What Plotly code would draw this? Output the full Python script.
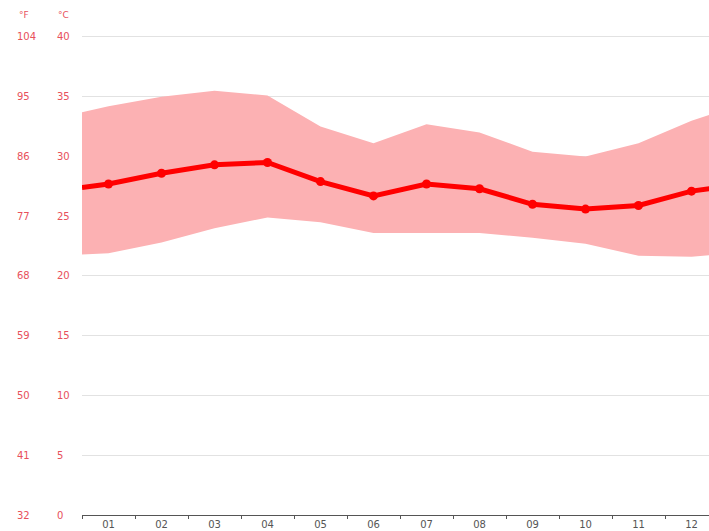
import plotly.graph_objs as go

# monthly climate values (°C)
months = ["01", "02", "03", "04", "05", "06", "07", "08", "09", "10", "11", "12"]
month_pos = [1, 2, 3, 4, 5, 6, 7, 8, 9, 10, 11, 12]
mean_temp = [27.7, 28.6, 29.3, 29.5, 27.9, 26.7, 27.7, 27.3, 26.0, 25.6, 25.9, 27.1]
max_temp = [34.2, 35.0, 35.5, 35.1, 32.5, 31.1, 32.7, 32.0, 30.4, 30.0, 31.1, 33.0]
min_temp = [21.9, 22.8, 24.0, 24.9, 24.5, 23.6, 23.6, 23.6, 23.2, 22.7, 21.7, 21.6]

# values at the year edges (between Dec and Jan), where the curves run off the chart
edge_pos = [0.5, 12.5]
edge_mean = 27.4
edge_max = 33.7
edge_min = 21.8

celsius_ticks = [0, 5, 10, 15, 20, 25, 30, 35, 40]
fahrenheit_ticks = [32, 41, 50, 59, 68, 77, 86, 95, 104]

RED = "#ff0000"
BAND = "#fcb1b3"
LABEL_RED = "#e8505b"
FONT = "DejaVu Sans"

x_full = [edge_pos[0]] + month_pos + [edge_pos[1]]
upper = [edge_max] + max_temp + [edge_max]
lower = [edge_min] + min_temp + [edge_min]
mean_full = [edge_mean] + mean_temp + [edge_mean]

fig = go.Figure()

fig.add_trace(go.Scatter(
    x=x_full, y=lower, mode="lines",
    line=dict(width=0, color=BAND),
    hoverinfo="skip", showlegend=False))
fig.add_trace(go.Scatter(
    x=x_full, y=upper, mode="lines",
    line=dict(width=0, color=BAND),
    fill="tonexty", fillcolor=BAND,
    hoverinfo="skip", showlegend=False))
fig.add_trace(go.Scatter(
    x=x_full, y=mean_full, mode="lines",
    line=dict(width=5, color=RED),
    hoverinfo="skip", showlegend=False))
fig.add_trace(go.Scatter(
    x=month_pos, y=mean_temp, mode="markers",
    marker=dict(size=9, color=RED),
    showlegend=False))

annotations = []
for c, f in zip(celsius_ticks, fahrenheit_ticks):
    annotations.append(dict(
        x=15 / 709, y=c, xref="paper", yref="y", text=str(f),
        showarrow=False, xanchor="left", yanchor="middle",
        font=dict(family=FONT, size=10, color=LABEL_RED)))
    annotations.append(dict(
        x=55 / 709, y=c, xref="paper", yref="y", text=str(c),
        showarrow=False, xanchor="left", yanchor="middle",
        font=dict(family=FONT, size=10, color=LABEL_RED)))

# unit headers above the plot
for label, xpos in [("°F", 17), ("°C", 56)]:
    annotations.append(dict(
        x=xpos / 709, y=1 + 16 / 484, xref="paper", yref="paper", text=label,
        showarrow=False, xanchor="left", yanchor="middle",
        font=dict(family=FONT, size=9, color=LABEL_RED)))

fig.update_layout(
    width=709, height=531,
    margin=dict(l=0, r=0, t=31, b=16),
    paper_bgcolor="white", plot_bgcolor="white",
    annotations=annotations,
    xaxis=dict(
        domain=[82 / 709, 1],
        range=[0.5, 12.33],
        tickvals=month_pos, ticktext=months,
        ticks="", showgrid=False, zeroline=False,
        showline=True, linecolor="#555555", linewidth=1,
        tickfont=dict(family=FONT, size=10, color="#555555"),
        ticklabelstandoff=0,
        minor=dict(tick0=0.5, dtick=1, ticks="outside", ticklen=3,
                   tickcolor="#555555", showgrid=False),
    ),
    yaxis=dict(
        range=[0, 40.5],
        tickvals=celsius_ticks,
        showticklabels=False, ticks="",
        showgrid=True, gridcolor="#e2e2e2", gridwidth=1,
        zeroline=False, showline=False,
    ),
)

fig.write_html("out.html", config={"displayModeBar": False},
               post_script="document.body.style.margin='0';")
